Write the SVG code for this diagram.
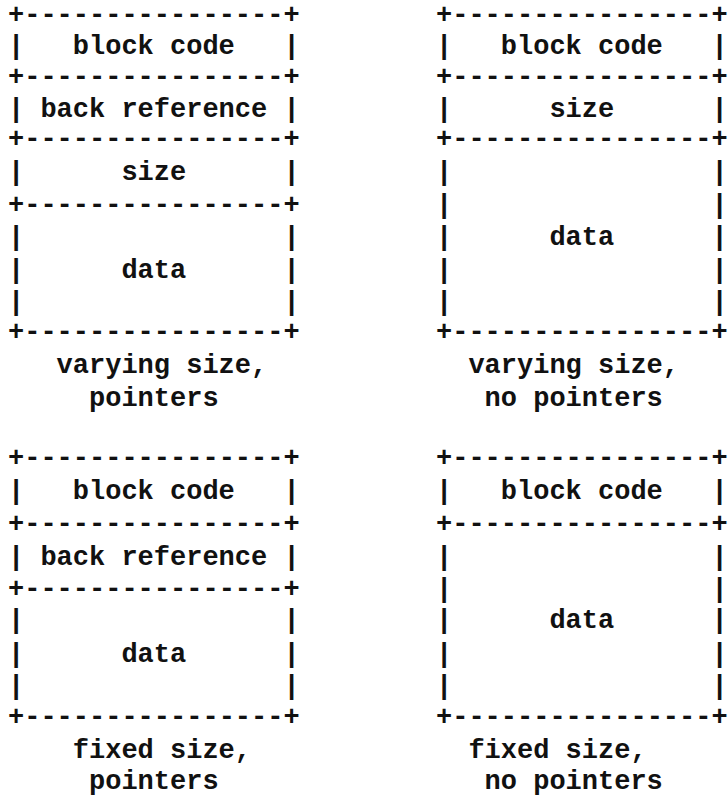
<svg xmlns="http://www.w3.org/2000/svg" width="728" height="798" viewBox="0 0 728 798">
  <style>
    .t { font-family: "Liberation Mono", "DejaVu Sans Mono", monospace; font-size: 27px; font-weight: bold; fill: #111; }
  </style>
  <rect x="0" y="0" width="728" height="798" fill="#fff"/>

  <!-- Character grid: 16.2px per column; left blocks start at x=8, right blocks at x=436 -->

  <!-- varying size, pointers -->
  <g id="block-varying-pointers" class="t">
    <text x="8" y="23">+----------------+</text>
    <text x="8" y="54">|</text><text x="72.8" y="54">block code</text><text x="283.4" y="54">|</text>
    <text x="8" y="85">+----------------+</text>
    <text x="8" y="117">|</text><text x="40.4" y="117">back reference</text><text x="283.4" y="117">|</text>
    <text x="8" y="147">+----------------+</text>
    <text x="8" y="180">|</text><text x="121.4" y="180">size</text><text x="283.4" y="180">|</text>
    <text x="8" y="213">+----------------+</text>
    <text x="8" y="245">|</text><text x="283.4" y="245">|</text>
    <text x="8" y="278">|</text><text x="121.4" y="278">data</text><text x="283.4" y="278">|</text>
    <text x="8" y="310">|</text><text x="283.4" y="310">|</text>
    <text x="8" y="340">+----------------+</text>
    <text x="56.6" y="373">varying size,</text>
    <text x="89" y="406">pointers</text>
  </g>

  <!-- varying size, no pointers -->
  <g id="block-varying-nopointers" class="t">
    <text x="436" y="23">+----------------+</text>
    <text x="436" y="54">|</text><text x="500.8" y="54">block code</text><text x="711.4" y="54">|</text>
    <text x="436" y="85">+----------------+</text>
    <text x="436" y="117">|</text><text x="549.4" y="117">size</text><text x="711.4" y="117">|</text>
    <text x="436" y="147">+----------------+</text>
    <text x="436" y="180">|</text><text x="711.4" y="180">|</text>
    <text x="436" y="213">|</text><text x="711.4" y="213">|</text>
    <text x="436" y="245">|</text><text x="549.4" y="245">data</text><text x="711.4" y="245">|</text>
    <text x="436" y="278">|</text><text x="711.4" y="278">|</text>
    <text x="436" y="310">|</text><text x="711.4" y="310">|</text>
    <text x="436" y="340">+----------------+</text>
    <text x="468.4" y="373">varying size,</text>
    <text x="484.6" y="406">no pointers</text>
  </g>

  <!-- fixed size, pointers -->
  <g id="block-fixed-pointers" class="t">
    <text x="8" y="466">+----------------+</text>
    <text x="8" y="499">|</text><text x="72.8" y="499">block code</text><text x="283.4" y="499">|</text>
    <text x="8" y="532">+----------------+</text>
    <text x="8" y="565">|</text><text x="40.4" y="565">back reference</text><text x="283.4" y="565">|</text>
    <text x="8" y="597">+----------------+</text>
    <text x="8" y="628">|</text><text x="283.4" y="628">|</text>
    <text x="8" y="662">|</text><text x="121.4" y="662">data</text><text x="283.4" y="662">|</text>
    <text x="8" y="694">|</text><text x="283.4" y="694">|</text>
    <text x="8" y="725">+----------------+</text>
    <text x="72.8" y="758">fixed size,</text>
    <text x="89" y="789">pointers</text>
  </g>

  <!-- fixed size, no pointers -->
  <g id="block-fixed-nopointers" class="t">
    <text x="436" y="466">+----------------+</text>
    <text x="436" y="499">|</text><text x="500.8" y="499">block code</text><text x="711.4" y="499">|</text>
    <text x="436" y="532">+----------------+</text>
    <text x="436" y="565">|</text><text x="711.4" y="565">|</text>
    <text x="436" y="597">|</text><text x="711.4" y="597">|</text>
    <text x="436" y="628">|</text><text x="549.4" y="628">data</text><text x="711.4" y="628">|</text>
    <text x="436" y="662">|</text><text x="711.4" y="662">|</text>
    <text x="436" y="694">|</text><text x="711.4" y="694">|</text>
    <text x="436" y="725">+----------------+</text>
    <text x="468.4" y="758">fixed size,</text>
    <text x="484.6" y="789">no pointers</text>
  </g>

  <g id="connectors"/>
</svg>
